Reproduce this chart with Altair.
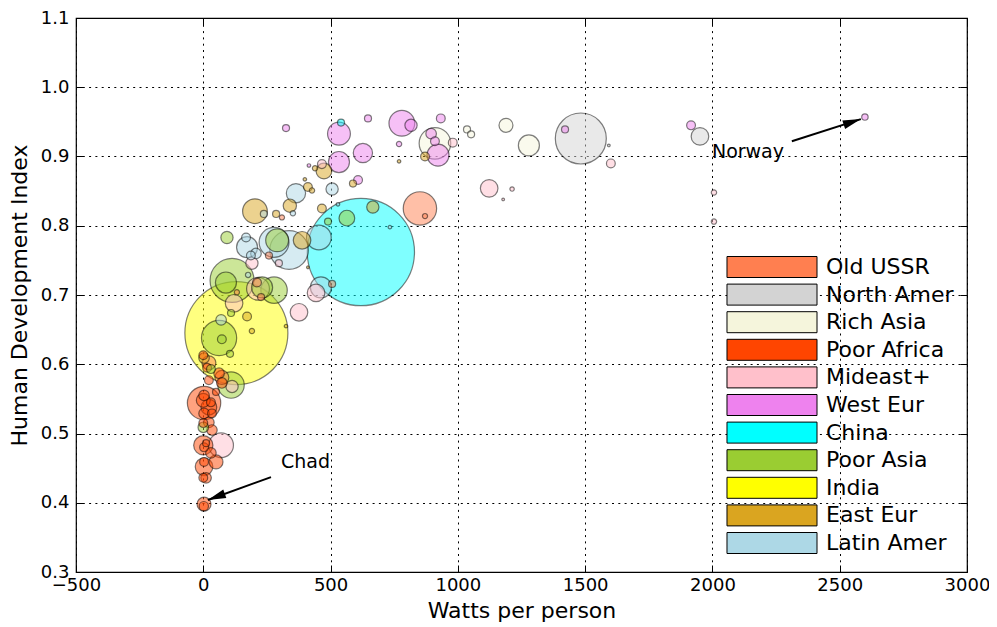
import altair as alt
import pandas as pd

FONT = "DejaVu Sans"

region_order = ["Old USSR", "North Amer", "Rich Asia", "Poor Africa", "Mideast+",
                "West Eur", "China", "Poor Asia", "India", "East Eur", "Latin Amer"]
region_colors = ["#FF7F50", "#D3D3D3", "#F5F5DC", "#FF4500", "#FFC0CB",
                 "#EE82EE", "#00FFFF", "#9ACD32", "#FFFF00", "#DAA520", "#ADD8E6"]

region = (["Old USSR"] * 10 + ["North Amer"] * 3 + ["Rich Asia"] * 5 + ["Poor Africa"] * 27
          + ["Mideast+"] * 16 + ["West Eur"] * 17 + ["China"] * 2 + ["Poor Asia"] * 15
          + ["India"] * 1 + ["East Eur"] * 19 + ["Latin Amer"] * 16)

watts = [
    851, 871, 506, 309, 258, 211, 227, 73, 22, 132,
    1483, 1951, 1593,
    910, 1279, 1189, 1036, 1052,
    3, 0, 3, 0, 22, 62, 73, 50, 3, 0, 22, 30, 3, 34, 0, 22, 34, 3, 11, 30, 3, 50, 11, 0, 3, 2, 15,
    1601, 1123, 1213, 1178, 2006, 2006, 980, 466, 376, 443, 297, 191, 121, 70, 215, 113,
    2599, 1916, 1421, 780, 816, 933, 647, 533, 769, 895, 910, 922, 533, 627, 608, 325, 415,
    619, 541,
    564, 490, 93, 290, 113, 89, 278, 231, 62, 73, 109, 105, 30, 0, 109,
    130,
    203, 286, 340, 411, 427, 399, 474, 439, 588, 769, 871, 666, 466, 388, 3, 172, 191, 325, 411,
    337, 454, 278, 364, 506, 462, 172, 168, 207, 187, 176, 70, 352, 238, 733, 529,
]

hdi = [
    0.825, 0.814, 0.716, 0.812, 0.757, 0.718, 0.697, 0.581, 0.602, 0.704,
    0.926, 0.929, 0.916,
    0.919, 0.916, 0.945, 0.939, 0.932,
    0.544, 0.483, 0.452, 0.613, 0.577, 0.587, 0.573, 0.560, 0.555, 0.548, 0.538, 0.545, 0.529,
    0.529, 0.515, 0.516, 0.505, 0.480, 0.486, 0.472, 0.459, 0.459, 0.436, 0.436, 0.398, 0.395, 0.595,
    0.890, 0.854, 0.853, 0.838, 0.848, 0.806, 0.920, 0.889, 0.675, 0.703, 0.746, 0.746, 0.688,
    0.483, 0.709, 0.568,
    0.957, 0.945, 0.939, 0.948, 0.945, 0.955, 0.955, 0.933, 0.918, 0.933, 0.922, 0.902, 0.892,
    0.905, 0.866, 0.941, 0.887,
    0.762, 0.949,
    0.811, 0.806, 0.783, 0.779, 0.721, 0.718, 0.707, 0.711, 0.638, 0.636, 0.570, 0.615, 0.593,
    0.509, 0.674,
    0.645,
    0.821, 0.817, 0.829, 0.856, 0.851, 0.867, 0.879, 0.883, 0.861, 0.893, 0.900, 0.827, 0.825,
    0.779, 0.609, 0.669, 0.648, 0.655, 0.740,
    0.765, 0.783, 0.776, 0.847, 0.853, 0.711, 0.769, 0.783, 0.760, 0.757, 0.729, 0.664, 0.818,
    0.817, 0.798, 0.831,
]

pop = [
    126, 3, 5.6, 3, 5.6, 8.8, 5.6, 22, 22, 3,
    294, 35, 0.8,
    113, 50, 22, 5.6, 5.6,
    126, 42, 35, 8.8, 8.8, 12.6, 12.6, 5.6, 12.6, 22, 28, 8.8, 12.6, 8.8, 8.8, 12.6, 12.6, 8.8,
    5.6, 12.6, 8.8, 22, 12.6, 8.8, 22, 10, 8.8,
    8.8, 35, 2.2, 0.8, 3.2, 3.2, 8.8, 8.8, 35, 35, 5.6, 17, 35, 69, 59, 17,
    4.7, 8.8, 5.6, 75, 17, 8.8, 5.6, 59, 3.2, 12.6, 8.8, 55, 50, 42, 8.8, 5.6, 1.4,
    1300, 5.6,
    28, 5.6, 17, 59, 219, 50, 79, 50, 140, 8.8, 79, 5.6, 8.8, 12.6, 5.6,
    1200,
    69, 5.6, 20, 8.8, 3.2, 1.4, 28, 3.2, 5.6, 1.4, 8.8, 17, 8.8, 35, 12.6, 8.8, 3.2, 1.4, 0.8,
    169, 69, 101, 42, 17, 50, 50, 8.8, 12.6, 8.8, 3.2, 12.6, 3.2, 5.6, 1.4, 1.4,
]

# annotations
note_text = ["Norway", "Chad"]
note_x = [1998, 305]
note_y = [0.906, 0.459]
arrow_x_start = [2312, 266]
arrow_y_start = [0.922, 0.437]
arrow_x_tip = [2583, 18]
arrow_y_tip = [0.954, 0.404]
arrow_angle = [72, 250]

x_ticks = [-500, 0, 500, 1000, 1500, 2000, 2500, 3000]
y_ticks = [0.3, 0.4, 0.5, 0.6, 0.7, 0.8, 0.9, 1.0, 1.1]

W, H = 891, 554

df = pd.DataFrame({"region": region, "watts": watts, "hdi": hdi, "pop": pop})
notes = pd.DataFrame({"text": note_text, "x": note_x, "y": note_y,
                      "xs": arrow_x_start, "ys": arrow_y_start,
                      "xt": arrow_x_tip, "yt": arrow_y_tip, "angle": arrow_angle})

xscale = alt.Scale(domain=[-500, 3000], nice=False, zero=False)
yscale = alt.Scale(domain=[0.3, 1.1], nice=False, zero=False)

legend_rect = "M-4.286,-1H4.286V1H-4.286Z"
head_path = "M0,0L-0.75,3L0.75,3Z"

grid_common = dict(grid=True, gridColor="black", gridDash=[2, 4.3], gridWidth=1, gridOpacity=1,
                   ticks=False, domain=False, labelFont=FONT, labelFontSize=18, labelColor="black",
                   titleFont=FONT, titleFontSize=22, titleColor="black", titleFontWeight="normal",
                   labelFlush=False, labelOverlap=False)

bubbles = alt.Chart(df).mark_circle(
    stroke="black", strokeWidth=1.2, fillOpacity=0.5, strokeOpacity=0.5, opacity=1
).encode(
    x=alt.X("watts:Q", scale=xscale,
            axis=alt.Axis(title="Watts per person", values=x_ticks, format="d",
                          labelPadding=4, titlePadding=6, **grid_common)),
    y=alt.Y("hdi:Q", scale=yscale,
            axis=alt.Axis(title="Human Development Index", values=y_ticks, format=".1f",
                          labelPadding=7, titlePadding=9, **grid_common)),
    size=alt.Size("pop:Q", scale=alt.Scale(domain=[0, 1300], range=[0, 11500]), legend=None),
    color=alt.Color("region:N", scale=alt.Scale(domain=region_order, range=region_colors),
                    legend=alt.Legend(orient="none", legendX=651, legendY=238, title=None,
                                      symbolType=legend_rect, symbolSize=441,
                                      symbolStrokeColor="black", symbolStrokeWidth=1,
                                      symbolOpacity=1, symbolOffset=34, labelOffset=43,
                                      labelFont=FONT, labelFontSize=22, labelColor="black",
                                      labelLimit=400, rowPadding=1.6, padding=0)),
    order=alt.Order("pop:Q", sort="descending"),
)

tick_common = dict(title=None, labels=False, domain=False, grid=False, ticks=True,
                   tickSize=7, tickColor="black", tickWidth=1)

lines = alt.Chart(notes).mark_rule(color="black", strokeWidth=2).encode(
    x=alt.X("xs:Q", scale=xscale, axis=alt.Axis(orient="top", offset=-H, values=x_ticks, **tick_common)),
    y=alt.Y("ys:Q", scale=yscale, axis=alt.Axis(orient="right", offset=-W, values=y_ticks, **tick_common)),
    x2="xt:Q",
    y2="yt:Q",
)

texts = alt.Chart(notes).mark_text(font=FONT, fontSize=19, align="left", baseline="middle",
                                   color="black").encode(
    x=alt.X("x:Q", scale=xscale, axis=alt.Axis(orient="bottom", offset=-H, values=x_ticks, **tick_common)),
    y=alt.Y("y:Q", scale=yscale, axis=alt.Axis(orient="left", offset=-W, values=y_ticks, **tick_common)),
    text="text:N",
)

heads = alt.Chart(notes).mark_point(shape=head_path, size=144, filled=True, color="black",
                                    opacity=1).encode(
    x=alt.X("xt:Q", scale=xscale, axis=None),
    y=alt.Y("yt:Q", scale=yscale, axis=None),
    angle=alt.Angle("angle:Q", scale=None),
)

chart = alt.layer(bubbles, lines, texts, heads).resolve_axis(
    x="independent", y="independent"
).properties(
    width=W, height=H,
    autosize=alt.AutoSizeParams(type="none"),
    padding={"left": 68, "top": 10, "right": 22, "bottom": 50},
).configure_view(stroke="black", strokeWidth=1.2)

chart.save("out.html", embed_options={"renderer": "svg", "actions": False})
